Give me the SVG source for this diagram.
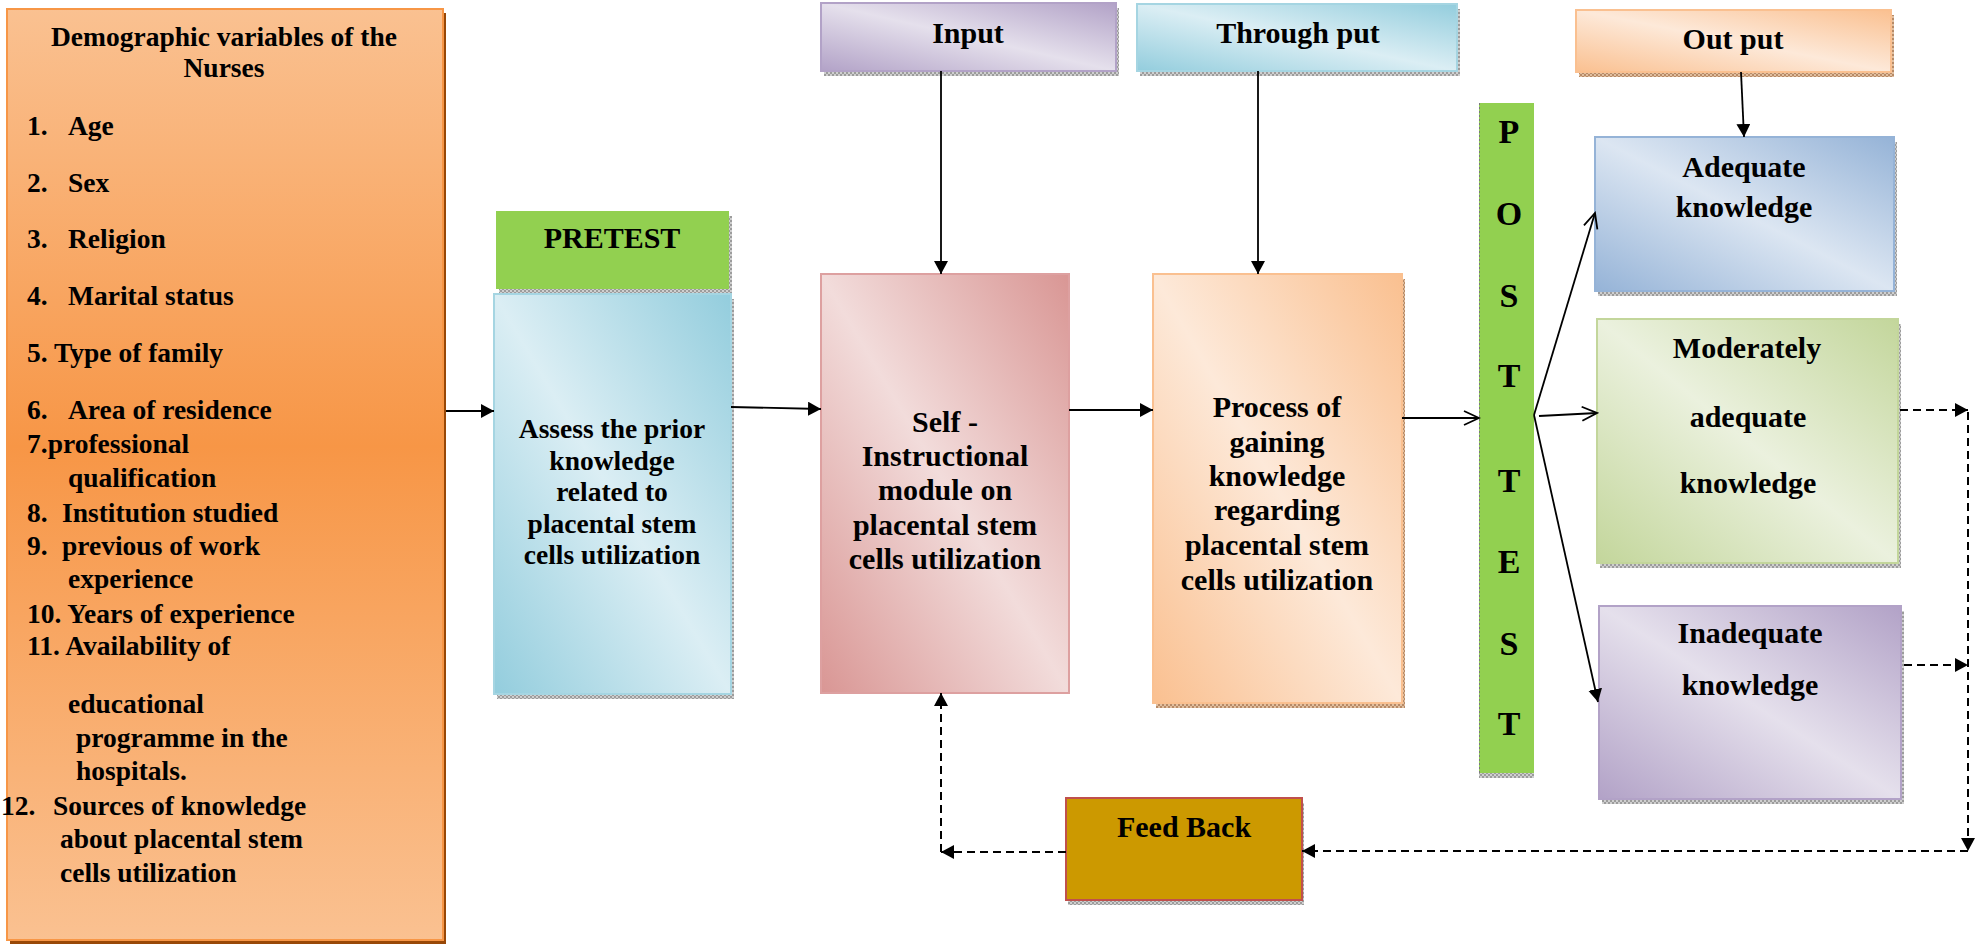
<svg xmlns="http://www.w3.org/2000/svg" width="1986" height="945" viewBox="0 0 1986 945">
<style>
.t{font-family:"Liberation Serif","Times New Roman",serif;font-weight:bold;fill:#000}
.s27{font-size:27.5px}
.s30{font-size:30px}
.s34{font-size:34px}
.c{text-anchor:middle}
.ln{stroke:#000;stroke-width:1.8;fill:none}
.dash{stroke:#000;stroke-width:2;stroke-dasharray:8 5;fill:none}
</style>
<defs>
<linearGradient id="gLeft" x1="0" y1="0" x2="0" y2="1">
<stop offset="0" stop-color="#FAC191"/><stop offset="0.47" stop-color="#F79646"/><stop offset="1" stop-color="#FAC191"/>
</linearGradient>
<linearGradient id="gBlue" x1="1" y1="0" x2="0" y2="1">
<stop offset="0" stop-color="#93CDDD"/><stop offset="0.5" stop-color="#DBEEF4"/><stop offset="1" stop-color="#93CDDD"/>
</linearGradient>
<linearGradient id="gPink" x1="1" y1="0" x2="0" y2="1">
<stop offset="0" stop-color="#D99694"/><stop offset="0.5" stop-color="#F2DCDB"/><stop offset="1" stop-color="#D99694"/>
</linearGradient>
<linearGradient id="gOrange" x1="1" y1="0" x2="0" y2="1">
<stop offset="0" stop-color="#FAC090"/><stop offset="0.5" stop-color="#FDE9D9"/><stop offset="1" stop-color="#FAC090"/>
</linearGradient>
<linearGradient id="gBlue2" x1="1" y1="0" x2="0" y2="1">
<stop offset="0" stop-color="#95B3D7"/><stop offset="0.5" stop-color="#DCE6F2"/><stop offset="1" stop-color="#95B3D7"/>
</linearGradient>
<linearGradient id="gGreen" x1="1" y1="0" x2="0" y2="1">
<stop offset="0" stop-color="#C3D69B"/><stop offset="0.5" stop-color="#EBF1DE"/><stop offset="1" stop-color="#C3D69B"/>
</linearGradient>
<linearGradient id="gPurple" x1="1" y1="0" x2="0" y2="1">
<stop offset="0" stop-color="#B2A2C7"/><stop offset="0.5" stop-color="#E5E0EC"/><stop offset="1" stop-color="#B2A2C7"/>
</linearGradient>
<pattern id="pGrey" width="4" height="4" patternUnits="userSpaceOnUse">
<rect width="4" height="4" fill="#9c9c9c"/><rect width="2" height="2" fill="#cfcfcf"/><rect x="2" y="2" width="2" height="2" fill="#cfcfcf"/>
</pattern>
<pattern id="pBrown" width="4" height="4" patternUnits="userSpaceOnUse">
<rect width="4" height="4" fill="#b88a66"/><rect width="2" height="2" fill="#e0bfa0"/><rect x="2" y="2" width="2" height="2" fill="#e0bfa0"/>
</pattern>
<marker id="aF" markerUnits="userSpaceOnUse" markerWidth="14" markerHeight="14" refX="13" refY="7" orient="auto">
<path d="M0,0 L13,7 L0,14 z" fill="#000"/>
</marker>
<marker id="aO" markerUnits="userSpaceOnUse" markerWidth="18" markerHeight="18" refX="16" refY="8" orient="auto">
<path d="M1,1 L16,8 L1,15" fill="none" stroke="#000" stroke-width="1.8"/>
</marker>
</defs>
<rect width="1986" height="945" fill="#fff"/>

<g id="demographics">
<rect x="10" y="13" width="436" height="931" fill="#984807"/>
<rect x="7" y="9" width="436" height="931" fill="url(#gLeft)" stroke="#F79646" stroke-width="2"/>
<text class="t s27 c" x="224" y="46">Demographic variables of the</text>
<text class="t s27 c" x="224" y="77">Nurses</text>
<text class="t s27" x="27" y="135">1.</text><text class="t s27" x="68" y="135">Age</text>
<text class="t s27" x="27" y="192">2.</text><text class="t s27" x="68" y="192">Sex</text>
<text class="t s27" x="27" y="248">3.</text><text class="t s27" x="68" y="248">Religion</text>
<text class="t s27" x="27" y="305">4.</text><text class="t s27" x="68" y="305">Marital status</text>
<text class="t s27" x="27" y="362">5. Type of family</text>
<text class="t s27" x="27" y="419">6.</text><text class="t s27" x="68" y="419">Area of residence</text>
<text class="t s27" x="27" y="453">7.professional</text>
<text class="t s27" x="68" y="487">qualification</text>
<text class="t s27" x="27" y="522">8.</text><text class="t s27" x="62" y="522">Institution studied</text>
<text class="t s27" x="27" y="555">9.</text><text class="t s27" x="62" y="555">previous of work</text>
<text class="t s27" x="68" y="588">experience</text>
<text class="t s27" x="27" y="623">10. Years of experience</text>
<text class="t s27" x="27" y="655">11. Availability of</text>
<text class="t s27" x="68" y="713">educational</text>
<text class="t s27" x="76" y="747">programme in the</text>
<text class="t s27" x="76" y="780">hospitals.</text>
<text class="t s27" x="1" y="815">12.</text><text class="t s27" x="53" y="815">Sources of knowledge</text>
<text class="t s27" x="60" y="848">about placental stem</text>
<text class="t s27" x="60" y="882">cells utilization</text>
</g>

<g id="pretest">
<rect x="499" y="216" width="233" height="78" fill="url(#pGrey)"/>
<rect x="496" y="211" width="233" height="78" fill="#92D050"/>
<text class="t s30 c" x="612" y="248">PRETEST</text>
</g>

<g id="assess">
<rect x="497" y="299" width="237" height="400" fill="url(#pGrey)"/>
<rect x="494" y="294" width="237" height="400" fill="url(#gBlue)" stroke="#A5D5E2" stroke-width="2"/>
<text class="t s27 c" x="612" y="438">Assess the prior</text>
<text class="t s27 c" x="612" y="469.5">knowledge</text>
<text class="t s27 c" x="612" y="501">related to</text>
<text class="t s27 c" x="612" y="532.5">placental stem</text>
<text class="t s27 c" x="612" y="564">cells utilization</text>
</g>

<g id="input">
<rect x="824" y="8" width="295" height="68" fill="url(#pGrey)"/>
<rect x="821" y="3" width="295" height="68" fill="url(#gPurple)" stroke="#B2A2C7" stroke-width="2"/>
<text class="t s30 c" x="968" y="43">Input</text>
</g>

<g id="self-module">
<rect x="821" y="274" width="248" height="419" fill="url(#gPink)" stroke="#DDA0A0" stroke-width="2"/>
<text class="t s30 c" x="945" y="432">Self -</text>
<text class="t s30 c" x="945" y="466">Instructional</text>
<text class="t s30 c" x="945" y="500">module on</text>
<text class="t s30 c" x="945" y="535">placental stem</text>
<text class="t s30 c" x="945" y="569">cells utilization</text>
</g>

<g id="throughput">
<rect x="1140" y="9" width="320" height="67" fill="url(#pGrey)"/>
<rect x="1137" y="4" width="320" height="67" fill="url(#gBlue)" stroke="#A5D5E2" stroke-width="2"/>
<text class="t s30 c" x="1298" y="43">Through put</text>
</g>

<g id="process">
<rect x="1156" y="279" width="249" height="429" fill="url(#pBrown)"/>
<rect x="1153" y="274" width="249" height="429" fill="url(#gOrange)" stroke="#FAC090" stroke-width="2"/>
<text class="t s30 c" x="1277" y="417">Process of</text>
<text class="t s30 c" x="1277" y="452">gaining</text>
<text class="t s30 c" x="1277" y="486">knowledge</text>
<text class="t s30 c" x="1277" y="520">regarding</text>
<text class="t s30 c" x="1277" y="555">placental stem</text>
<text class="t s30 c" x="1277" y="590">cells utilization</text>
</g>

<g id="output">
<rect x="1579" y="15" width="315" height="62" fill="url(#pBrown)"/>
<rect x="1576" y="10" width="315" height="62" fill="url(#gOrange)" stroke="#FAC090" stroke-width="2"/>
<text class="t s30 c" x="1733" y="49">Out put</text>
</g>

<g id="posttest">
<rect x="1479" y="108" width="55" height="670" fill="url(#pGrey)"/>
<rect x="1479" y="103" width="55" height="670" fill="#92D050"/>
<line x1="1479.5" y1="103" x2="1479.5" y2="773" stroke="#7a7a7a" stroke-width="1" stroke-dasharray="2 2"/>
<text class="t s34 c" x="1509" y="143">P</text>
<text class="t s34 c" x="1509" y="225">O</text>
<text class="t s34 c" x="1509" y="307">S</text>
<text class="t s34 c" x="1509" y="387">T</text>
<text class="t s34 c" x="1509" y="492">T</text>
<text class="t s34 c" x="1509" y="573">E</text>
<text class="t s34 c" x="1509" y="655">S</text>
<text class="t s34 c" x="1509" y="735">T</text>
</g>

<g id="adequate">
<rect x="1598" y="142" width="299" height="154" fill="url(#pGrey)"/>
<rect x="1595" y="137" width="299" height="154" fill="url(#gBlue2)" stroke="#95B3D7" stroke-width="2"/>
<text class="t s30 c" x="1744" y="177">Adequate</text>
<text class="t s30 c" x="1744" y="217">knowledge</text>
</g>

<g id="moderately">
<rect x="1600" y="324" width="301" height="244" fill="url(#pGrey)"/>
<rect x="1597" y="319" width="301" height="244" fill="url(#gGreen)" stroke="#C3D69B" stroke-width="2"/>
<text class="t s30 c" x="1747" y="358">Moderately</text>
<text class="t s30 c" x="1748" y="427">adequate</text>
<text class="t s30 c" x="1748" y="493">knowledge</text>
</g>

<g id="inadequate">
<rect x="1602" y="611" width="302" height="193" fill="url(#pGrey)"/>
<rect x="1599" y="606" width="302" height="193" fill="url(#gPurple)" stroke="#B2A2C7" stroke-width="2"/>
<text class="t s30 c" x="1750" y="643">Inadequate</text>
<text class="t s30 c" x="1750" y="695">knowledge</text>
</g>

<g id="feedback">
<rect x="1068" y="803" width="236" height="102" fill="url(#pGrey)"/>
<rect x="1066" y="798" width="236" height="102" fill="#CC9900" stroke="#C0504D" stroke-width="2"/>
<text class="t s30 c" x="1184" y="837">Feed Back</text>
</g>

<g id="connectors">
<line class="ln" x1="446" y1="411" x2="494" y2="411" marker-end="url(#aF)"/>
<line class="ln" x1="731" y1="407" x2="821" y2="409" marker-end="url(#aF)"/>
<line class="ln" x1="941" y1="71" x2="941" y2="274" marker-end="url(#aF)"/>
<line class="ln" x1="1069" y1="410" x2="1153" y2="410" marker-end="url(#aF)"/>
<line class="ln" x1="1258" y1="71" x2="1258" y2="274" marker-end="url(#aF)"/>
<line class="ln" x1="1402" y1="418" x2="1479" y2="418" marker-end="url(#aO)"/>
<line class="ln" x1="1534" y1="415" x2="1595" y2="213" marker-end="url(#aO)"/>
<line class="ln" x1="1539" y1="416" x2="1597" y2="413" marker-end="url(#aO)"/>
<line class="ln" x1="1534" y1="415" x2="1598" y2="702" marker-end="url(#aF)"/>
<line class="ln" x1="1741" y1="72" x2="1744" y2="137" marker-end="url(#aF)"/>
<line class="dash" x1="1900" y1="410" x2="1968" y2="410" marker-end="url(#aF)"/>
<line class="dash" x1="1904" y1="665" x2="1968" y2="665" marker-end="url(#aF)"/>
<line class="dash" x1="1968" y1="412" x2="1968" y2="851" marker-end="url(#aF)"/>
<line class="dash" x1="1968" y1="851" x2="1302" y2="851" marker-end="url(#aF)"/>
<line class="dash" x1="1066" y1="852" x2="941" y2="852" marker-end="url(#aF)"/>
<line class="dash" x1="941" y1="852" x2="941" y2="693" marker-end="url(#aF)"/>
</g>
</svg>
